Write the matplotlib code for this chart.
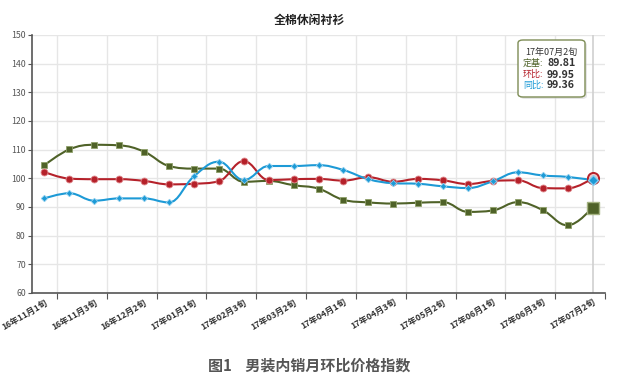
import numpy as np
import matplotlib
matplotlib.use('Agg')
import matplotlib.pyplot as plt
from matplotlib.path import Path
from matplotlib.patches import PathPatch, FancyBboxPatch

plt.rcParams['font.family'] = ['Noto Sans CJK SC', 'DejaVu Sans']

# Dane
periods = ['16年11月1旬', '16年11月2旬', '16年11月3旬', '16年12月1旬', '16年12月2旬',
           '16年12月3旬', '17年01月1旬', '17年01月2旬', '17年02月3旬', '17年03月1旬',
           '17年03月2旬', '17年03月3旬', '17年04月1旬', '17年04月2旬', '17年04月3旬',
           '17年05月1旬', '17年05月2旬', '17年05月3旬', '17年06月1旬', '17年06月2旬',
           '17年06月3旬', '17年07月1旬', '17年07月2旬']
dingji = [104.6, 110.1, 111.7, 111.5, 109.3, 104.3, 103.4, 103.4, 98.8, 99.1, 97.6, 96.4,
          92.5, 91.6, 91.2, 91.5, 91.7, 88.3, 88.8, 91.7, 88.9, 83.6, 89.81]
huanbi = [102.2, 99.9, 99.7, 99.7, 99.1, 97.9, 98.1, 99.0, 106.0, 99.4, 99.7, 99.8,
          99.2, 100.4, 98.8, 99.8, 99.3, 98.0, 99.1, 99.3, 96.6, 96.5, 99.95]
tongbi = [93.0, 94.8, 92.2, 93.0, 93.0, 91.6, 100.7, 105.8, 99.4, 104.3, 104.3, 104.6,
          102.9, 99.7, 98.3, 98.1, 97.2, 96.6, 99.0, 102.1, 101.0, 100.5, 99.36]
yticks = list(range(60, 151, 10))

c_green = '#4f6228'
c_red = '#b5212a'
c_blue = '#1d9ad6'


# Krzywa typu spline (wygładzanie jak w Highcharts)
def spline_path(xs, ys, smoothing=1.5):
    n = len(xs)
    d = smoothing + 1
    lc = [(xs[i], ys[i]) for i in range(n)]
    rc = [(xs[i], ys[i]) for i in range(n)]
    for i in range(1, n - 1):
        px, py = xs[i], ys[i]
        lx = (smoothing * px + xs[i - 1]) / d
        ly = (smoothing * py + ys[i - 1]) / d
        rx = (smoothing * px + xs[i + 1]) / d
        ry = (smoothing * py + ys[i + 1]) / d
        if rx != lx:
            corr = ((ry - ly) * (rx - px)) / (rx - lx) + py - ry
            ly += corr
            ry += corr
        if ly > ys[i - 1] and ly > py:
            ly = max(ys[i - 1], py)
            ry = 2 * py - ly
        elif ly < ys[i - 1] and ly < py:
            ly = min(ys[i - 1], py)
            ry = 2 * py - ly
        if ry > ys[i + 1] and ry > py:
            ry = max(ys[i + 1], py)
            ly = 2 * py - ry
        elif ry < ys[i + 1] and ry < py:
            ry = min(ys[i + 1], py)
            ly = 2 * py - ry
        lc[i] = (lx, ly)
        rc[i] = (rx, ry)
    verts = [(xs[0], ys[0])]
    codes = [Path.MOVETO]
    for i in range(1, n):
        verts += [rc[i - 1], lc[i], (xs[i], ys[i])]
        codes += [Path.CURVE4] * 3
    return Path(verts, codes)


fig = plt.figure(figsize=(6.19, 3.8), dpi=100)
W, H = 619, 380
ax = fig.add_axes([32 / W, 1 - 293 / H, (605 - 32) / W, (293 - 35) / H])

x = np.arange(len(periods))
ax.set_xlim(-0.5, len(periods) - 0.5)
ax.set_ylim(60, 150)

# Siatka
for yv in yticks[1:]:
    ax.axhline(yv, color='#e6e6e6', lw=1, zorder=0)
for xv in np.arange(0.5, len(periods) - 1, 2):
    ax.axvline(xv, color='#e6e6e6', lw=1, zorder=0)
# Linia celownika przy ostatnim punkcie
ax.axvline(x[-1], color='#d0d0d0', lw=1.2, zorder=1)

series = [
    (dingji, c_green, 's', 4.8, '#8fa06a'),
    (huanbi, c_red, 'o', 5.0, '#e08a8f'),
    (tongbi, c_blue, 'D', 3.3, '#8ccdee'),
]
for vals, col, mk, ms, edge in series:
    ax.add_patch(PathPatch(spline_path(x, vals), fill=False, edgecolor=col, lw=1.5, zorder=3))
    ax.plot(x[:-1], vals[:-1], ls='none', marker=mk, ms=ms, color=col,
            markeredgecolor=edge, markeredgewidth=0.6, zorder=4)

# Wyróżnione ostatnie punkty
ax.plot(x[-1], dingji[-1], ls='none', marker='s', ms=8, color=c_green,
        markeredgecolor='#a5b382', markeredgewidth=1, zorder=5)
ax.plot(x[-1], huanbi[-1], ls='none', marker='o', ms=8, color='#f3c6c8',
        markeredgecolor=c_red, markeredgewidth=1.4, zorder=5)
ax.plot(x[-1], tongbi[-1], ls='none', marker='D', ms=5.5, color=c_blue,
        markeredgecolor='#8ccdee', markeredgewidth=1, zorder=6)

# Osie
for s in ['top', 'right']:
    ax.spines[s].set_visible(False)
ax.spines['left'].set_color('#555555')
ax.spines['bottom'].set_color('#555555')
ax.spines['left'].set_linewidth(1.2)
ax.spines['bottom'].set_linewidth(1.2)

ax.set_yticks(yticks)
ax.set_yticklabels([str(v) for v in yticks])
ax.tick_params(axis='y', labelsize=6.3, colors='#555555', length=3, pad=1.5,
               labelcolor='#555555')
ax.set_xticks(np.arange(0.5, len(periods), 2))
ax.set_xticklabels([])
ax.tick_params(axis='x', length=4, colors='#555555')
for i in range(0, len(periods), 2):
    ax.text(x[i], 58.3, periods[i], rotation=30, ha='right', va='top',
            fontsize=6.2, color='#333333', fontweight='bold', rotation_mode='anchor')

fig.text(0.5, 1 - 20 / H, '全棉休闲衬衫', ha='center', va='center',
         fontsize=8.6, fontweight='bold', color='#222222')
fig.text(0.5, 1 - 366 / H, '图1    男装内销月环比价格指数', ha='center', va='center',
         fontsize=10.8, fontweight='bold', color='#555555')

# Okienko podpowiedzi
box = FancyBboxPatch((518 / W, 1 - 97 / H), 67 / W, 57 / H,
                     boxstyle='round,pad=0,rounding_size=0.008',
                     transform=fig.transFigure, facecolor='white',
                     edgecolor='#7d8c55', lw=1, zorder=10)
shadow = FancyBboxPatch((520 / W, 1 - 99 / H), 67 / W, 57 / H,
                        boxstyle='round,pad=0,rounding_size=0.008',
                        transform=fig.transFigure, facecolor='#cccccc',
                        edgecolor='none', alpha=0.5, zorder=9)
fig.patches.extend([shadow, box])
fig.text(551.5 / W, 1 - 52 / H, periods[-1], fontsize=6.5, color='#333333',
         va='center', ha='center', zorder=11)
rows = [('定基', dingji[-1], c_green, 63.5),
        ('环比', huanbi[-1], c_red, 74.5),
        ('同比', tongbi[-1], c_blue, 85.5)]
for name, val, col, ypx in rows:
    fig.text(523 / W, 1 - ypx / H, name + ':', fontsize=6.5, color=col,
             va='center', ha='left', zorder=11)
    fig.text(547 / W, 1 - ypx / H, f'{val:.2f}', fontsize=7.6, color='#333333',
             fontweight='bold', va='center', ha='left', zorder=11)

fig.savefig('out.png', dpi=100)
